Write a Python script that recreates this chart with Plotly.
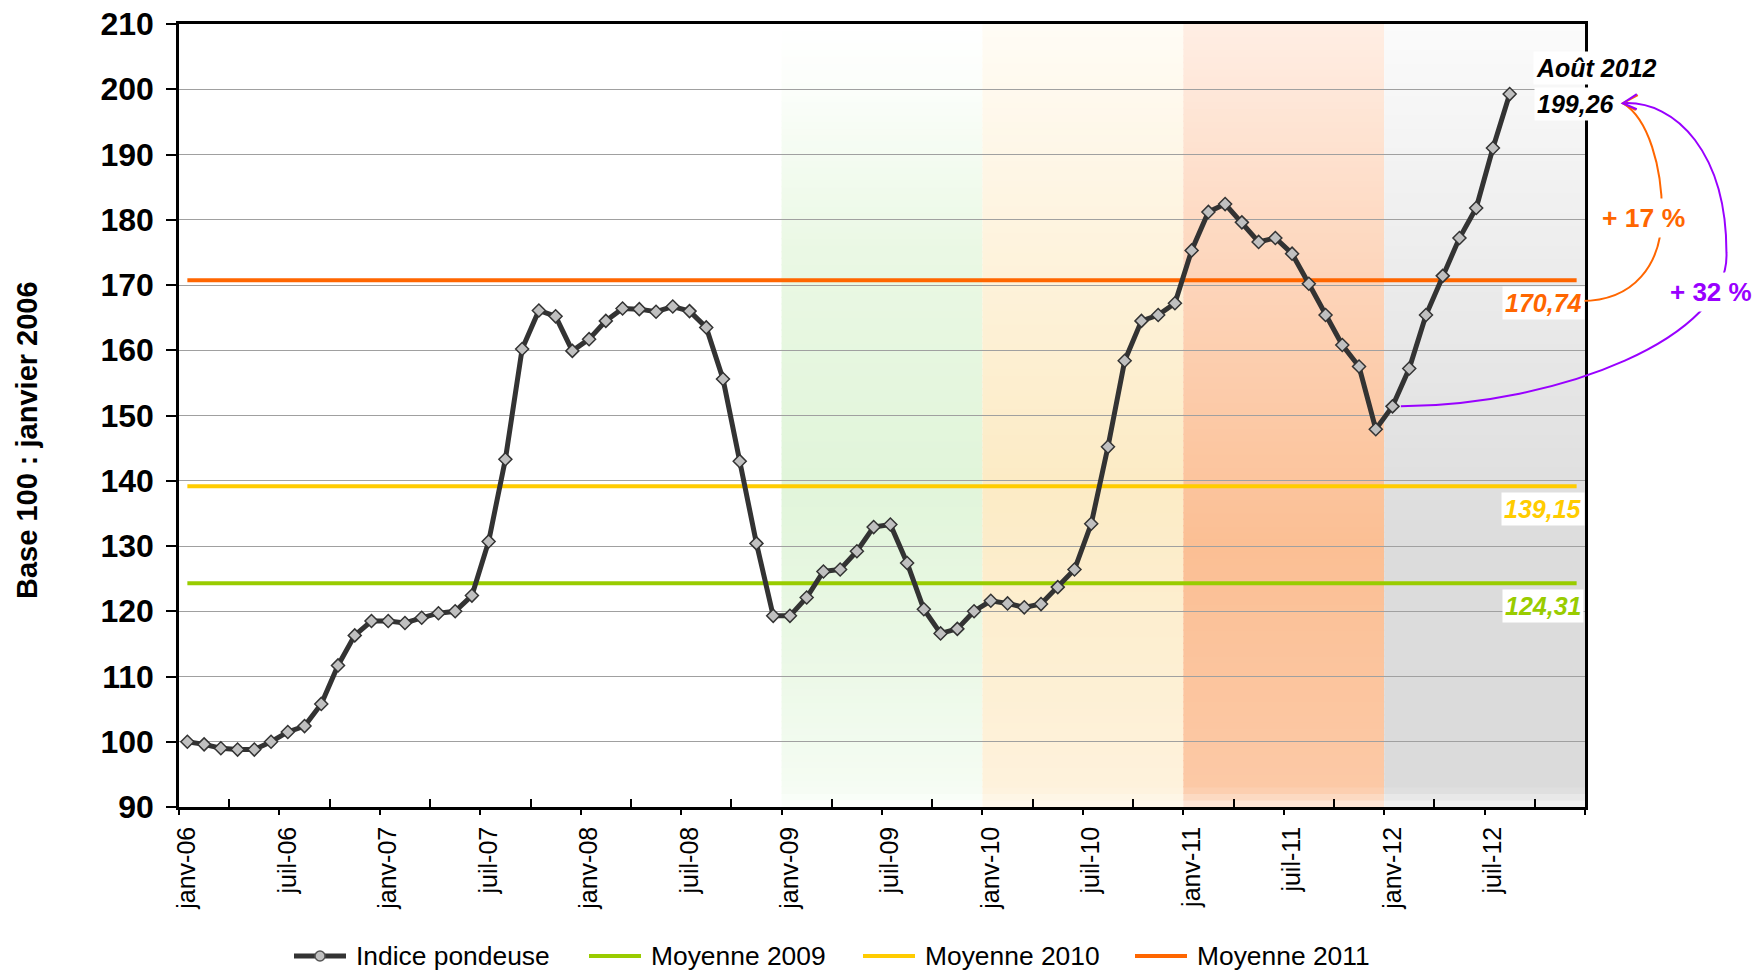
import plotly.graph_objects as go

# ---------------- data ----------------
tick_labels = ["janv-06", "juil-06", "janv-07", "juil-07", "janv-08", "juil-08",
               "janv-09", "juil-09", "janv-10", "juil-10", "janv-11", "juil-11",
               "janv-12", "juil-12"]

# Indice pondeuse, monthly, janv-06 .. août-12 (base 100 = janvier 2006)
indice_pondeuse = [
    100.0, 99.6, 99.0, 98.8, 98.8, 100.0, 101.5, 102.4, 105.8, 111.7, 116.3, 118.5,   # 2006
    118.5, 118.2, 119.0, 119.7, 120.0, 122.4, 130.7, 143.3, 160.2, 166.1, 165.2, 159.9,  # 2007
    161.7, 164.5, 166.4, 166.3, 165.9, 166.7, 166.0, 163.5, 155.6, 143.0, 130.4, 119.3,  # 2008
    119.3, 122.1, 126.1, 126.4, 129.2, 132.9, 133.3, 127.4, 120.3, 116.6, 117.3, 120.0,  # 2009
    121.6, 121.2, 120.6, 121.1, 123.7, 126.4, 133.4, 145.2, 158.4, 164.5, 165.4, 167.2,  # 2010
    175.3, 181.2, 182.4, 179.6, 176.6, 177.2, 174.8, 170.2, 165.4, 160.8, 157.5, 147.9,  # 2011
    151.4, 157.2, 165.4, 171.4, 177.2, 181.8, 191.0, 199.26,                             # 2012
]
last_label = "Août 2012"
series_name = "Indice pondeuse"

moyenne_years = [2009, 2010, 2011]
moyenne_values = [124.31, 139.15, 170.74]

shaded_years = [2009, 2010, 2011, 2012]
first_year = 2006
n_categories = 84          # janv-06 .. déc-12 on the axis
y_min, y_max = 90, 210

# ---------------- styles ----------------
FONT = "Liberation Sans, Arial, sans-serif"
LINE_COLOR = "#333333"
MARKER_COLOR = "#C0C0C0"
moyenne_colors = ["#99CC00", "#FFCC00", "#FF6600"]
band_stops = {
    2009: [(90, "#FDFFFC"), (93, "#F5FCF3"), (115, "#EAF8E5"), (140, "#E1F5DA"), (175, "#EAF8E4"), (200, "#FBFEFA"), (210, "#FFFFFF")],
    2010: [(90, "#FFF9EF"), (93, "#FEF2DC"), (140, "#FCEBC5"), (180, "#FEF4E0"), (210, "#FFFCF5")],
    2011: [(90, "#FDEBDF"), (93, "#FCC9A6"), (130, "#FBBF94"), (170, "#FDD4B9"), (210, "#FFEEE4")],
    2012: [(90, "#F5F5F5"), (93, "#DBDBDB"), (130, "#DCDCDC"), (170, "#EBEBEB"), (210, "#FBFBFB")],
}

# plot-area geometry (px)
ML, MR, MT, MB = 179, 173, 24, 166
W, H = 1758, 973
PW, PH = W - ML - MR, H - MT - MB


def hex_to_rgb(h):
    h = h.lstrip("#")
    return tuple(int(h[i:i + 2], 16) for i in (0, 2, 4))


def interp_color(stops, v):
    if v <= stops[0][0]:
        return stops[0][1]
    for (v0, c0), (v1, c1) in zip(stops[:-1], stops[1:]):
        if v0 <= v <= v1:
            t = (v - v0) / (v1 - v0)
            a, b = hex_to_rgb(c0), hex_to_rgb(c1)
            r = [round(a[i] + (b[i] - a[i]) * t) for i in range(3)]
            return "rgb(%d,%d,%d)" % tuple(r)
    return stops[-1][1]


def fmt(v):
    return ("%.2f" % v).replace(".", ",")


def P(cat, val):
    """data (category index, value) -> paper coordinates"""
    return ((cat + 0.5) / n_categories, (val - y_min) / (y_max - y_min))


def xpx(px):
    return (px - ML) / PW


def ypx(py):
    return (H - MB - py) / PH


months_idx = list(range(len(indice_pondeuse)))
all_idx = list(range(n_categories))
tickvals = [6 * i for i in range(len(tick_labels))]

fig = go.Figure()

for yr, val, col in zip(moyenne_years, moyenne_values, moyenne_colors):
    fig.add_trace(go.Scatter(
        x=all_idx, y=[val] * n_categories, mode="lines",
        line=dict(color=col, width=4), name="Moyenne %d" % yr,
        hoverinfo="skip", showlegend=False))

fig.add_trace(go.Scatter(
    x=months_idx, y=indice_pondeuse, xaxis="x2", mode="lines+markers",
    line=dict(color=LINE_COLOR, width=5),
    marker=dict(symbol="diamond", size=10, color=MARKER_COLOR,
                line=dict(color=LINE_COLOR, width=1.5)),
    name=series_name, showlegend=False))

# ---------------- background bands (vertical gradients) ----------------
shapes = []
step = 1
for yr in shaded_years:
    x0 = (yr - first_year) * 12 - 0.5
    x1 = x0 + 12
    v = y_min
    while v < y_max:
        shapes.append(dict(type="rect", xref="x", yref="y", layer="below",
                           x0=x0, x1=x1, y0=v, y1=min(v + step + 0.2, y_max),
                           fillcolor=interp_color(band_stops[yr], v + step / 2),
                           line=dict(width=0)))
        v += step

# ---------------- curved arrows (paper coordinates) ----------------
def path_of(segments):
    s = ""
    for k, seg in enumerate(segments):
        pts = [P(*p) for p in seg]
        if k == 0:
            s += "M %.5f,%.5f " % pts[0]
        s += "C %.5f,%.5f %.5f,%.5f %.5f,%.5f " % (pts[1] + pts[2] + pts[3])
    return s


last_i = len(indice_pondeuse) - 1
last_v = indice_pondeuse[-1]
avg11 = moyenne_values[2]
end = (last_i + 6.76, last_v - 1.4)

orange_start = (83.27, avg11 - 3.2)
orange_mid = (88.1, 181.0)
orange_path = path_of([
    [orange_start, (86.4, avg11 - 3.2), (88.1, 173.0), orange_mid],
    [orange_mid, (88.1, 188.0), (87.3, 195.5), end],
])
janv12 = (72.5, indice_pondeuse[72])
purple_mid = (91.95, 175.0)
purple_path = path_of([
    [janv12, (82.0, janv12[1] + 0.2), (92.2, 162.0), purple_mid],
    [purple_mid, (91.95, 190.0), (89.0, 198.3), end],
])
shapes.append(dict(type="path", xref="paper", yref="paper", layer="above",
                   path=orange_path, line=dict(color="#FF6600", width=2)))
shapes.append(dict(type="path", xref="paper", yref="paper", layer="above",
                   path=purple_path, line=dict(color="#9900FF", width=2)))

ex, ey = P(*end)
for col, arms in [("#FF6600", [(15, -8), (13, 7)]), ("#9900FF", [(14, -9), (14, 6)])]:
    (ax1, ay1), (ax2, ay2) = arms
    p = "M %.5f,%.5f L %.5f,%.5f L %.5f,%.5f" % (
        ex + ax1 / PW, ey - ay1 / PH, ex, ey, ex + ax2 / PW, ey - ay2 / PH)
    shapes.append(dict(type="path", xref="paper", yref="paper", layer="above",
                       path=p, line=dict(color=col, width=2)))

# ---------------- annotations ----------------
ann = []
ann.append(dict(xref="paper", yref="paper", x=xpx(27), y=ypx(440), xanchor="center", yanchor="middle",
                textangle=-90, showarrow=False, text="<b>Base 100 : janvier 2006</b>",
                font=dict(family=FONT, size=29, color="black")))
ann.append(dict(xref="x", yref="y", x=last_i, y=last_v, xshift=87, yshift=26,
                xanchor="center", yanchor="middle",
                showarrow=False, text="<b><i>%s</i></b>" % last_label, bgcolor="white",
                borderpad=2, font=dict(family=FONT, size=25, color="black")))
ann.append(dict(xref="x", yref="y", x=last_i, y=last_v, xshift=66, yshift=-10,
                xanchor="center", yanchor="middle",
                showarrow=False, text="<b><i>%s</i></b>" % fmt(last_v), bgcolor="white",
                borderpad=2, font=dict(family=FONT, size=25, color="black")))
for val, col in zip(moyenne_values, moyenne_colors):
    ann.append(dict(xref="x", yref="y", x=81, y=val, yshift=-23, showarrow=False,
                    xanchor="center", yanchor="middle",
                    text="<b><i>%s</i></b>" % fmt(val), bgcolor="white", borderpad=2,
                    font=dict(family=FONT, size=25, color=col)))
pct17 = round((last_v / avg11 - 1) * 100)
pct32 = round((last_v / indice_pondeuse[72] - 1) * 100)
x17, y17 = P(87.0, 180.2)
x32, y32 = P(91.04, 168.9)
ann.append(dict(xref="paper", yref="paper", x=x17, y=y17, showarrow=False,
                xanchor="center", yanchor="middle",
                text="<b>+ %d %%</b>" % pct17, bgcolor="white", borderpad=4,
                font=dict(family=FONT, size=26.5, color="#FF6600")))
ann.append(dict(xref="paper", yref="paper", x=x32, y=y32, showarrow=False,
                xanchor="center", yanchor="middle",
                text="<b>+ %d %%</b>" % pct32, bgcolor="white", borderpad=4,
                font=dict(family=FONT, size=26, color="#9900FF")))

# ---------------- manual legend (below the chart) ----------------
legend_items = [
    (series_name, LINE_COLOR, 5, True, 294),
    ("Moyenne %d" % moyenne_years[0], moyenne_colors[0], 4, False, 589),
    ("Moyenne %d" % moyenne_years[1], moyenne_colors[1], 4, False, 863),
    ("Moyenne %d" % moyenne_years[2], moyenne_colors[2], 4, False, 1135),
]
ly = 956
for name, col, lw, with_marker, sx in legend_items:
    shapes.append(dict(type="line", xref="paper", yref="paper", layer="above",
                       x0=xpx(sx), x1=xpx(sx + 52), y0=ypx(ly), y1=ypx(ly),
                       line=dict(color=col, width=lw)))
    if with_marker:
        cx = sx + 26
        shapes.append(dict(type="circle", xref="paper", yref="paper", layer="above",
                           x0=xpx(cx - 5), x1=xpx(cx + 5), y0=ypx(ly + 5), y1=ypx(ly - 5),
                           fillcolor=MARKER_COLOR, line=dict(color="#555555", width=1.5)))
    ann.append(dict(xref="paper", yref="paper", x=xpx(sx + 60), y=ypx(ly), xanchor="left",
                    yanchor="middle", showarrow=False, text=name,
                    font=dict(family=FONT, size=26.4, color="black")))

fig.update_layout(
    width=W, height=H, autosize=False,
    margin=dict(l=ML, r=MR, t=MT, b=MB, autoexpand=False),
    paper_bgcolor="white", plot_bgcolor="white",
    font=dict(family=FONT, color="black"),
    showlegend=False,
    xaxis=dict(range=[-0.5, n_categories - 0.5], tickmode="array", tickvals=tickvals,
               ticktext=tick_labels, ticks="", tickangle=-90,
               tickfont=dict(family=FONT, size=25, color="black"),
               showgrid=False, zeroline=False, showline=True, linecolor="black",
               linewidth=2.5, mirror=True, ticklabelstandoff=7,
               minor=dict(tickmode="array", tickvals=[2.5 + 6 * k for k in range(14)],
                          ticks="inside", ticklen=8, tickwidth=2, tickcolor="black",
                          showgrid=False)),
    xaxis2=dict(overlaying="x", anchor="y", side="bottom",
                range=[-0.5, n_categories - 0.5], tickmode="array",
                tickvals=[-0.5 + 6 * k for k in range(15)], ticks="outside", ticklen=7,
                tickwidth=2, tickcolor="black", showticklabels=False, showgrid=False,
                showline=False, zeroline=False),
    yaxis=dict(range=[y_min, y_max], tickmode="linear", tick0=y_min, dtick=10,
               ticks="outside", ticklen=10, tickwidth=2, tickcolor="black",
               showgrid=True, gridcolor="#A0A0A0", gridwidth=1, zeroline=False,
               showline=True, linecolor="black", linewidth=2.5, mirror=True,
               tickfont=dict(family=FONT, size=32, color="black", weight="bold"),
               ticklabelstandoff=6),
    shapes=shapes,
    annotations=ann,
)

fig.write_html("out.html", config={"displayModeBar": False},
               post_script="document.body.style.margin='0px';document.body.style.overflow='hidden';")
